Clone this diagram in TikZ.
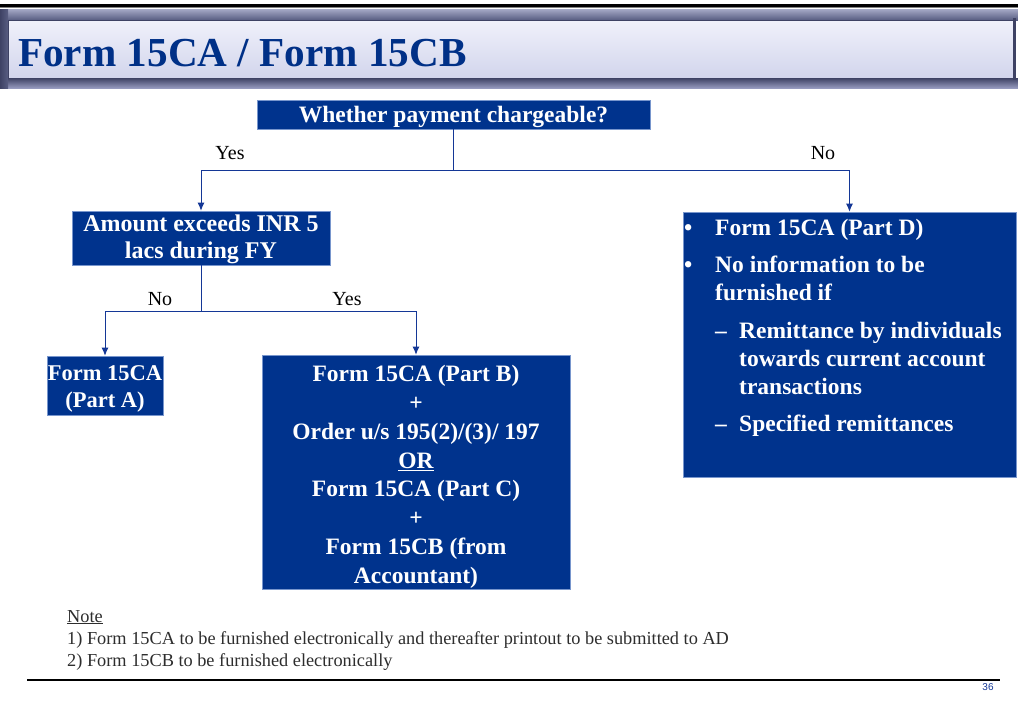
\documentclass[tikz,border=0pt]{standalone}
\usepackage{fontspec}
\setmainfont{Liberation Serif}
\newfontfamily\sansf{Liberation Sans}
\usetikzlibrary{arrows.meta}
\definecolor{boxblue}{RGB}{0,51,141}
\definecolor{boxedge}{RGB}{120,150,205}
\definecolor{connblue}{RGB}{20,55,150}
\definecolor{titleblue}{RGB}{0,48,135}
\definecolor{notegray}{RGB}{45,45,45}
\definecolor{frameA}{RGB}{165,169,198}
\definecolor{frameB}{RGB}{88,93,130}
\definecolor{frameC}{RGB}{62,66,100}
\definecolor{frameD}{RGB}{150,154,190}
\definecolor{panelTop}{RGB}{240,241,251}
\definecolor{panelBot}{RGB}{210,213,236}
\tikzset{
  box/.style={fill=boxblue, draw=boxedge, line width=0.6pt, text=white,
    font=\bfseries\fontsize{23.5}{28.8}\selectfont, align=center, inner sep=0pt},
  conn/.style={draw=connblue, line width=0.9pt},
  arr/.style={conn, -{Latex[length=8pt,width=7pt]}},
  lbl/.style={font=\fontsize{20}{24}\selectfont, text=black, inner sep=0pt},
  dtext/.style={font=\bfseries\fontsize{23.5}{28}\selectfont, text=white, inner sep=0pt, anchor=base west},
  notetext/.style={font=\fontsize{18.3}{22}\selectfont, text=notegray, inner sep=0pt, anchor=base west},
}
\begin{document}
\begin{tikzpicture}[x=1pt,y=-1pt]
\useasboundingbox[fill=white] (0,0) rectangle (1018,721);
% top rule
\draw[line width=2.6pt] (0,5.3) -- (1018,5.3);
\draw[line width=0.6pt, gray] (0,7.5) -- (1018,7.5);
% title bar frame
\shade[top color=frameA, bottom color=frameB] (0,9) rectangle (1018,20);
\shade[top color=frameC, bottom color=frameD] (0,78) rectangle (1018,88);
\shade[left color=frameC, right color=frameB] (0,9) rectangle (8,88);
\fill[frameC] (1013,18) rectangle (1016,80);
\shade[top color=panelTop, bottom color=panelBot] (8,20) rectangle (1013,78);
\draw[frameC, line width=0.8pt] (8,20) rectangle (1013,78);
\node[anchor=base west, inner sep=0pt, text=titleblue, font=\bfseries\fontsize{41.2}{48}\selectfont] (title) at (18,66) {Form 15CA / Form 15CB};

% boxes
\node[box, minimum width=393pt, minimum height=29pt, text depth=2pt, text height=17.5pt] (b1) at (453.5,114.5) {Whether payment chargeable?};
\node[box, minimum width=258pt, minimum height=54pt, font=\bfseries\fontsize{24}{27.5}\selectfont] (b2) at (201,238) {\rule{0pt}{19pt}Amount exceeds INR 5\\lacs during FY};
\node[box, minimum width=116pt, minimum height=59pt, font=\bfseries\fontsize{22.5}{27}\selectfont] (bA) at (105,385.5) {\rule{0pt}{21pt}Form 15CA\\(Part A)};
\node[box, minimum width=308pt, minimum height=234pt] (bB) at (416,472) {\rule{0pt}{26pt}Form 15CA (Part B)\\+\\Order u/s 195(2)/(3)/ 197\\\underline{OR}\\Form 15CA (Part C)\\+\\Form 15CB (from\\Accountant)};
\node[box, minimum width=333pt, minimum height=265pt] (bD) at (849.5,344.5) {};

% right box text
\node[dtext] (bu1) at (684,235) {•};
\node[dtext] (d1) at (715,235) {Form 15CA (Part D)};
\node[dtext] (bu2) at (684,272) {•};
\node[dtext] (d2) at (715,272) {No information to be};
\node[dtext] (d3) at (715,300) {furnished if};
\node[dtext] (da1) at (715,338) {–};
\node[dtext] (d4) at (739,338) {Remittance by individuals};
\node[dtext] (d5) at (739,366) {towards current account};
\node[dtext] (d6) at (739,394) {transactions};
\node[dtext] (da2) at (715,431) {–};
\node[dtext] (d7) at (739,431) {Specified remittances};

% connectors
\coordinate (j1) at (453.5,170);
\coordinate (j2) at (201,311);
\draw[conn] (b1.south) -- (j1);
\draw[arr] (j1) -| (b2.north);
\draw[arr] (j1) -| (bD.north);
\draw[conn] (b2.south) -- (j2);
\draw[arr] (j2) -| (bA.north);
\draw[arr] (j2) -| (bB.north);

% labels
\node[lbl] (y1) at (230,153) {Yes};
\node[lbl] (n1) at (823,153) {No};
\node[lbl] (n2) at (160,299) {No};
\node[lbl] (y2) at (347,299) {Yes};

% notes
\node[notetext] (nt) at (67,622) {\underline{Note}};
\node[notetext] (nt1) at (67,644) {1) Form 15CA to be furnished electronically and thereafter printout to be submitted to AD};
\node[notetext] (nt2) at (67,666) {2) Form 15CB to be furnished electronically};

% footer
\draw[line width=1.3pt] (27,680) -- (1000,680);
\node[inner sep=0pt, text=connblue, font=\sansf\fontsize{10}{12}\selectfont] (pg) at (988,687) {36};
\end{tikzpicture}
\end{document}
